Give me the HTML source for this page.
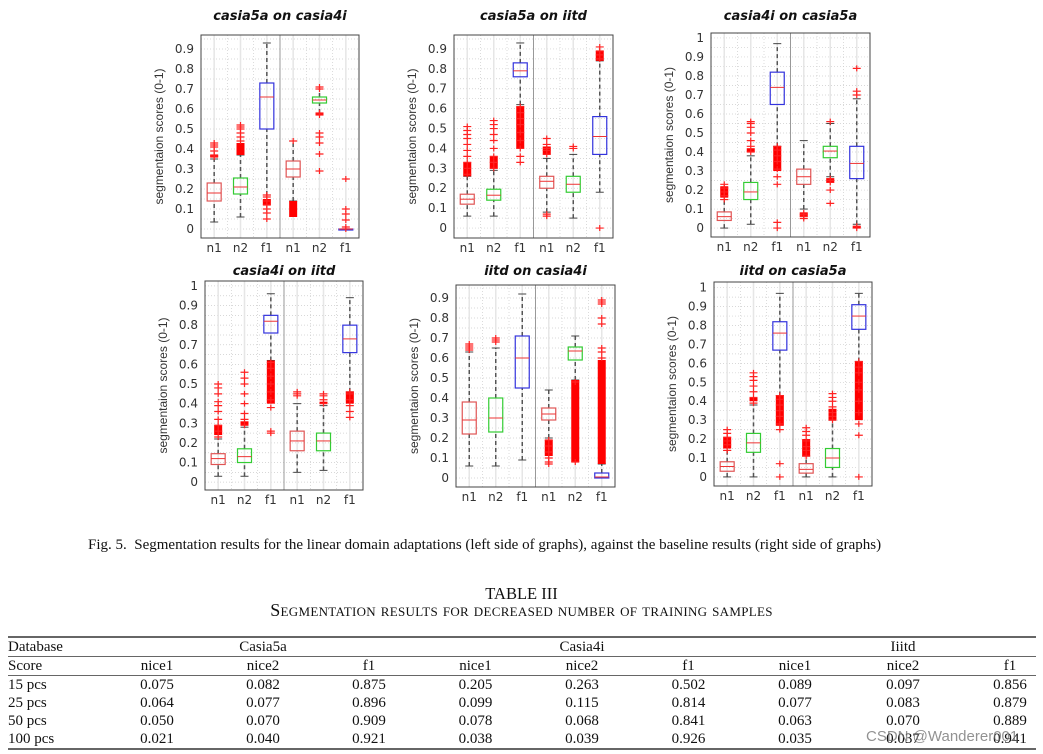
<!DOCTYPE html>
<html><head><meta charset="utf-8">
<style>
body{margin:0;background:#fff;width:1043px;height:754px;overflow:hidden;position:relative;font-family:"Liberation Serif",serif;}
svg{position:absolute;left:0;top:0}
.cap{position:absolute;left:88px;top:537px;font-size:15px;color:#111;white-space:nowrap}
.tt{position:absolute;left:0;width:1043px;text-align:center;color:#111}
table{position:absolute;left:8px;top:636px;width:1028px;border-collapse:collapse;table-layout:fixed;font-size:15px;color:#111;border-top:2px solid #666;border-bottom:2px solid #666}
td{padding:0;height:18px;line-height:18px;text-align:center;white-space:nowrap}
td:first-child{text-align:left}
td:last-child{padding-left:26px}
tr.b td{border-bottom:1px solid #666}
.wm{position:absolute;left:866px;top:728px;font-family:"Liberation Sans",sans-serif;font-size:15px;color:rgba(110,110,110,0.75)}
</style></head><body>
<svg id="chart" width="1043" height="530"></svg>
<div class="cap">Fig. 5.&nbsp; Segmentation results for the linear domain adaptations (left side of graphs), against the baseline results (right side of graphs)</div>
<div class="tt" style="top:584px;font-size:16.5px">TABLE III</div>
<div class="tt" style="top:600px;font-size:18px;font-variant:small-caps;letter-spacing:0.3px">Segmentation results for decreased number of training samples</div>
<table>
<colgroup><col style="width:96px"><col style="width:106px"><col style="width:106px"><col style="width:106px"><col style="width:107px"><col style="width:106px"><col style="width:107px"><col style="width:106px"><col style="width:110px"><col style="width:78px"></colgroup>
<tr class="b"><td>Database</td><td></td><td>Casia5a</td><td></td><td></td><td>Casia4i</td><td></td><td></td><td>Iiitd</td><td></td></tr>
<tr class="b"><td>Score</td><td>nice1</td><td>nice2</td><td>f1</td><td>nice1</td><td>nice2</td><td>f1</td><td>nice1</td><td>nice2</td><td>f1</td></tr>
<tr><td>15 pcs</td><td>0.075</td><td>0.082</td><td>0.875</td><td>0.205</td><td>0.263</td><td>0.502</td><td>0.089</td><td>0.097</td><td>0.856</td></tr>
<tr><td>25 pcs</td><td>0.064</td><td>0.077</td><td>0.896</td><td>0.099</td><td>0.115</td><td>0.814</td><td>0.077</td><td>0.083</td><td>0.879</td></tr>
<tr><td>50 pcs</td><td>0.050</td><td>0.070</td><td>0.909</td><td>0.078</td><td>0.068</td><td>0.841</td><td>0.063</td><td>0.070</td><td>0.889</td></tr>
<tr><td>100 pcs</td><td>0.021</td><td>0.040</td><td>0.921</td><td>0.038</td><td>0.039</td><td>0.926</td><td>0.035</td><td>0.037</td><td>0.941</td></tr>
</table>
<div class="wm">CSDN @Wanderer001</div>
<script>
const titles = ["casia5a on casia4i","casia5a on iitd","casia4i on casia5a","casia4i on iitd","iitd on casia4i","iitd on casia5a"];
const categories = ["n1","n2","f1","n1","n2","f1"];
const boxColors = ["#e05555","#33cc33","#3333dd","#e05555","#33cc33","#3333dd"];
// [whiskerLo, q1, median, q3, whiskerHi] per box
const boxes1 = [[.035,.14,.18,.23,.35],[.06,.175,.21,.255,.37],[.17,.50,.66,.73,.93],[.14,.26,.30,.34,.44],[.58,.63,.645,.66,.70],[0,0,0,0,0]];
const boxes2 = [[.06,.12,.145,.17,.26],[.06,.14,.165,.195,.29],[.62,.76,.79,.83,.93],[.08,.20,.235,.26,.35],[.05,.18,.22,.26,.37],[.18,.37,.46,.56,.84]];
const boxes3 = [[0,.04,.06,.085,.15],[.02,.15,.19,.24,.38],[.43,.65,.74,.82,.97],[.10,.23,.27,.31,.46],[.27,.37,.405,.43,.55],[.02,.26,.34,.43,.68]];
const boxes4 = [[.03,.09,.12,.145,.22],[.03,.10,.13,.17,.28],[.62,.76,.82,.85,.96],[.05,.16,.21,.26,.40],[.06,.16,.21,.25,.39],[.46,.66,.73,.80,.94]];
const boxes5 = [[.06,.22,.29,.38,.63],[.06,.23,.30,.40,.65],[.09,.45,.60,.71,.92],[.20,.29,.32,.35,.44],[.49,.59,.635,.655,.71],[0,0,.005,.025,.07]];
const boxes6 = [[0,.03,.055,.08,.14],[0,.13,.18,.23,.38],[.43,.67,.76,.82,.97],[0,.02,.04,.07,.11],[0,.05,.10,.15,.30],[.61,.78,.85,.91,.97]];
// individual outliers per box
const out1 = [[.36,.37,.39,.41,.42,.43],[.44,.46,.48,.50,.51,.52],[.05,.08,.10,.12,.14,.16,.17],[.44],[.29,.375,.43,.46,.48,.57,.58,.70,.71],[0,.01,.045,.075,.10,.25]];
const out2 = [[.27,.30,.33,.36,.39,.42,.45,.47,.49,.51],[.30,.33,.36,.40,.44,.47,.50,.52,.54],[.33,.36,.40,.44,.48,.52,.55,.58,.61],[.06,.07,.37,.39,.40,.42,.45],[.40,.41],[0,.85,.87,.89,.91]];
const out3 = [[.15,.17,.19,.21,.23],[.40,.43,.46,.50,.53,.55,.56],[0,.03,.23,.27,.31,.35,.38,.41,.43],[.05,.06,.07,.08],[.13,.20,.24,.25,.26,.56],[0,.01,.70,.72,.84]];
const out4 = [[.23,.26,.29,.32,.36,.39,.41,.45,.48,.50],[.29,.32,.35,.40,.45,.50,.53,.56],[.25,.26,.38,.42,.46,.50,.54,.58,.61],[.44,.45,.46],[.40,.42,.44,.45],[.33,.36,.39,.42,.45,.46]];
const out5 = [[.64,.65,.66,.67],[.68,.69,.70],[],[.07,.08,.10,.13,.16,.19],[.08,.48],[.60,.63,.65,.77,.80,.87,.88,.89]];
const out6 = [[.14,.17,.19,.21,.23,.25],[.39,.42,.45,.48,.51,.53,.55],[0,.07,.25,.28,.32,.35,.38,.41,.43],[.11,.14,.16,.19,.22,.24,.26],[.30,.32,.34,.37,.40,.42,.44],[0,.22,.28,.34,.40,.46,.50,.55,.58,.61]];
// dense outlier bands [lo, hi] per box
const dense1 = [[.36,.37],[.37,.43],[.12,.15],[.06,.14],[.57,.58],[]];
const dense2 = [[.26,.33],[.30,.36],[.40,.61],[.37,.41],[],[.84,.89]];
const dense3 = [[.16,.22],[.40,.42],[.30,.43],[.06,.08],[.24,.26],[0,.01]];
const dense4 = [[.24,.29],[.29,.31],[.40,.62],[],[.40,.41],[.40,.46]];
const dense5 = [[],[],[],[.11,.19],[.08,.49],[.07,.59]];
const dense6 = [[.15,.21],[.40,.42],[.27,.43],[.11,.20],[.30,.36],[.30,.61]];
const yTickLabels1 = ["0","0.1","0.2","0.3","0.4","0.5","0.6","0.7","0.8","0.9"];
const yTickLabels2 = ["0","0.1","0.2","0.3","0.4","0.5","0.6","0.7","0.8","0.9","1"];
const yTickValues1 = [0,.1,.2,.3,.4,.5,.6,.7,.8,.9];
const yTickValues2 = [0,.1,.2,.3,.4,.5,.6,.7,.8,.9,1];

const panels = [
 {L:201,R:359,T:35,B:238,vmin:-.045,vmax:.97,boxes:boxes1,out:out1,dense:dense1,tl:yTickLabels1,tv:yTickValues1,ty:20},
 {L:454,R:613,T:35,B:238,vmin:-.05,vmax:.97,boxes:boxes2,out:out2,dense:dense2,tl:yTickLabels1,tv:yTickValues1,ty:20},
 {L:711,R:870,T:33,B:237,vmin:-.047,vmax:1.026,boxes:boxes3,out:out3,dense:dense3,tl:yTickLabels2,tv:yTickValues2,ty:20},
 {L:205,R:363,T:281,B:490,vmin:-.04,vmax:1.025,boxes:boxes4,out:out4,dense:dense4,tl:yTickLabels2,tv:yTickValues2,ty:275},
 {L:456,R:615,T:285,B:487,vmin:-.045,vmax:.965,boxes:boxes5,out:out5,dense:dense5,tl:yTickLabels1,tv:yTickValues1,ty:275},
 {L:714,R:872,T:282,B:486,vmin:-.048,vmax:1.03,boxes:boxes6,out:out6,dense:dense6,tl:yTickLabels2,tv:yTickValues2,ty:275}
];
const NS="http://www.w3.org/2000/svg";
const svg=document.getElementById('chart');
function mk(tag,attrs,parent){const e=document.createElementNS(NS,tag);for(const k in attrs)e.setAttribute(k,attrs[k]);(parent||svg).appendChild(e);return e;}
panels.forEach((p,pi)=>{
 const g=mk('g',{});
 
 
 const y=v=>p.B-(v-p.vmin)/(p.vmax-p.vmin)*(p.B-p.T);
 const w=(p.R-p.L)/6;
 const x=i=>p.L+w*(i+0.5);
 for(let v=0;v<=p.vmax+1e-9;v+=0.05){mk('line',{x1:p.L,x2:p.R,y1:y(v),y2:y(v),stroke:'#ccc','stroke-width':0.7,'stroke-dasharray':'1,2'},g);}
 for(let i=0;i<6;i++){mk('line',{x1:x(i),x2:x(i),y1:p.T,y2:p.B,stroke:'#e6e6e6','stroke-width':1.5},g);
  if(i>0&&i!==3)mk('line',{x1:p.L+w*i,x2:p.L+w*i,y1:p.T,y2:p.B,stroke:'#ccc','stroke-width':0.7,'stroke-dasharray':'1,2'},g);}
 mk('line',{x1:p.L+w*3,x2:p.L+w*3,y1:p.T,y2:p.B,stroke:'#999','stroke-width':1},g);
 p.boxes.forEach((b,i)=>{
  const cx=x(i),bw=14;
  const bg=mk('g',{},g);
  
  
  mk('line',{x1:cx,x2:cx,y1:y(b[0]),y2:y(b[1]),stroke:'#555','stroke-width':1.5,'stroke-dasharray':'4,3'},bg);
  mk('line',{x1:cx,x2:cx,y1:y(b[3]),y2:y(b[4]),stroke:'#555','stroke-width':1.5,'stroke-dasharray':'4,3'},bg);
  mk('line',{x1:cx-4,x2:cx+4,y1:y(b[0]),y2:y(b[0]),stroke:'#444','stroke-width':1},bg);
  mk('line',{x1:cx-4,x2:cx+4,y1:y(b[4]),y2:y(b[4]),stroke:'#444','stroke-width':1},bg);
  mk('rect',{x:cx-bw/2,y:y(b[3]),width:bw,height:Math.max(1,y(b[1])-y(b[3])),fill:'none',stroke:boxColors[i],'stroke-width':1.2},bg);
  mk('line',{x1:cx-bw/2,x2:cx+bw/2,y1:y(b[2]),y2:y(b[2]),stroke:'#ee3333','stroke-width':1},bg);
  const d=p.dense[i];
  if(d.length)mk('rect',{x:cx-4,y:y(d[1]),width:8,height:Math.max(2,y(d[0])-y(d[1])),fill:'#f00'},bg);
  p.out[i].forEach(v=>{const yy=y(v);mk('path',{d:`M${cx-4} ${yy}H${cx+4}M${cx} ${yy-3}V${yy+3}`,stroke:'#f22','stroke-width':1.2},bg);});
  const t=mk('text',{x:cx,y:p.B+14,'text-anchor':'middle','font-size':12,'font-family':'DejaVu Sans, sans-serif',fill:'#333'},g);
  t.textContent=categories[i];
  
  
 });
 p.tv.forEach((v,k)=>{const t=mk('text',{x:p.L-7,y:y(v)+4,'text-anchor':'end','font-size':12,'font-family':'DejaVu Sans, sans-serif',fill:'#333'},g);t.textContent=p.tl[k];
  
  });
 mk('rect',{x:p.L,y:p.T,width:p.R-p.L,height:p.B-p.T,fill:'none',stroke:'#444','stroke-width':1},g);
 const tt=mk('text',{x:(p.L+p.R)/2,y:p.ty,'text-anchor':'middle','font-size':13,'font-weight':'bold','font-style':'italic','font-family':'DejaVu Sans, sans-serif',fill:'#111'},g);
 tt.textContent=titles[pi];
 
 
 const yl=mk('text',{x:0,y:0,transform:`translate(${p.L-38},${(p.T+p.B)/2}) rotate(-90)`,'text-anchor':'middle','font-size':12,'font-family':'Liberation Sans, sans-serif',fill:'#333'},g);
 yl.textContent='segmentaion scores (0-1)';
 
 
});
</script>
</body></html>
